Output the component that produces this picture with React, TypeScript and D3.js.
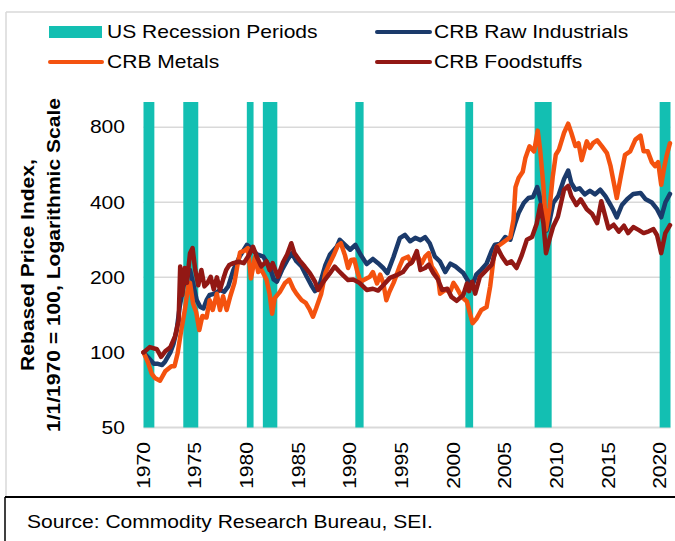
import React from "react";
import * as d3 from "d3";

type Pt = [number, number];

const yTicks = [50, 100, 200, 400, 800];
const yearTicks = [1970, 1975, 1980, 1985, 1990, 1995, 2000, 2005, 2010, 2015, 2020];

const recessions: Pt[] = [
  [1970.0, 1971.05],
  [1973.85, 1975.3],
  [1980.0, 1980.65],
  [1981.55, 1982.95],
  [1990.5, 1991.3],
  [2001.15, 2001.9],
  [2007.85, 2009.5],
  [2019.95, 2021.0],
];

const rawIndustrials: Pt[] = [
  [1970.0, 100], [1970.5, 95], [1971.0, 90], [1971.4, 90], [1971.8, 89], [1972.1, 92], [1972.6, 100],
  [1972.9, 108], [1973.2, 122], [1973.5, 152], [1973.85, 184], [1974.2, 201], [1974.5, 214], [1974.8, 189],
  [1975.15, 162], [1975.5, 152], [1975.8, 150], [1976.1, 162], [1976.4, 170], [1976.9, 172], [1977.4, 178],
  [1977.8, 175], [1978.2, 184], [1978.7, 214], [1979.3, 242], [1980.0, 270], [1980.4, 262], [1981.0, 247],
  [1981.6, 242], [1982.2, 221], [1982.6, 196], [1982.9, 192], [1983.4, 214], [1983.9, 234], [1984.35, 250],
  [1984.8, 232], [1985.3, 221], [1985.8, 201], [1986.3, 184], [1986.6, 176], [1987.1, 190], [1987.6, 224],
  [1988.05, 247], [1988.7, 265], [1989.0, 283], [1989.5, 270], [1990.0, 258], [1990.5, 270], [1991.0, 247],
  [1991.6, 226], [1992.2, 237], [1992.7, 228], [1993.2, 218], [1993.6, 208], [1994.2, 242], [1994.8, 287],
  [1995.3, 296], [1995.8, 279], [1996.3, 288], [1996.8, 282], [1997.25, 290], [1997.7, 274], [1998.2, 242],
  [1998.7, 231], [1999.2, 210], [1999.7, 227], [2000.2, 221], [2000.6, 214], [2000.95, 208], [2001.45, 192],
  [2001.9, 189], [2002.2, 205], [2002.7, 215], [2003.2, 227], [2003.7, 256], [2004.0, 270], [2004.5, 272],
  [2005.0, 290], [2005.5, 283], [2005.95, 328], [2006.3, 362], [2006.8, 397], [2007.25, 416], [2007.7, 420],
  [2008.1, 460], [2008.45, 405], [2008.7, 338], [2009.0, 308], [2009.35, 345], [2009.65, 397], [2010.15, 425],
  [2010.7, 496], [2011.1, 536], [2011.4, 478], [2011.8, 449], [2012.2, 455], [2012.7, 430], [2013.2, 445],
  [2013.7, 430], [2014.2, 449], [2014.7, 423], [2015.2, 390], [2015.5, 370], [2015.8, 348], [2016.3, 390],
  [2016.8, 411], [2017.4, 432], [2018.1, 436], [2018.6, 411], [2019.2, 399], [2019.7, 375], [2020.1, 348],
  [2020.5, 399], [2020.95, 432],
];

const metals: Pt[] = [
  [1970.0, 100], [1970.4, 92], [1970.8, 82], [1971.1, 79], [1971.6, 77], [1972.1, 84], [1972.4, 86],
  [1972.7, 88], [1973.0, 88], [1973.3, 99], [1973.6, 119], [1974.0, 148], [1974.35, 188], [1974.5, 190],
  [1974.8, 157], [1975.1, 145], [1975.4, 123], [1975.7, 140], [1976.1, 138], [1976.4, 162], [1976.7, 148],
  [1977.1, 172], [1977.4, 148], [1977.7, 168], [1978.05, 148], [1978.4, 168], [1978.8, 190], [1979.1, 225],
  [1979.35, 252], [1979.8, 256], [1980.1, 262], [1980.4, 198], [1980.8, 242], [1981.1, 210], [1981.4, 215],
  [1981.9, 196], [1982.2, 172], [1982.45, 143], [1982.7, 165], [1983.2, 175], [1983.7, 190], [1984.1, 196],
  [1984.5, 180], [1984.8, 172], [1985.3, 162], [1985.7, 158], [1986.1, 148], [1986.4, 139], [1986.7, 150],
  [1987.2, 172], [1987.6, 208], [1987.9, 222], [1988.4, 245], [1988.8, 268], [1989.1, 274], [1989.5, 245],
  [1989.8, 218], [1990.1, 235], [1990.4, 236], [1990.7, 210], [1991.0, 192], [1991.4, 196], [1991.9, 201],
  [1992.2, 210], [1992.6, 189], [1992.9, 205], [1993.2, 190], [1993.5, 162], [1993.8, 175], [1994.2, 190],
  [1994.5, 205], [1994.8, 222], [1995.1, 237], [1995.6, 242], [1995.9, 228], [1996.45, 247], [1996.9, 227],
  [1997.25, 242], [1997.6, 250], [1997.9, 221], [1998.2, 212], [1998.5, 201], [1998.7, 172], [1999.2, 178],
  [1999.7, 176], [2000.0, 190], [2000.3, 182], [2000.8, 167], [2001.3, 160], [2001.6, 143], [2001.85, 131],
  [2002.2, 136], [2002.7, 148], [2003.2, 152], [2003.55, 184], [2003.9, 242], [2004.2, 265], [2004.7, 274],
  [2005.15, 283], [2005.5, 290], [2005.8, 340], [2006.0, 460], [2006.3, 500], [2006.7, 530], [2006.95, 600],
  [2007.35, 670], [2007.8, 640], [2008.15, 775], [2008.4, 640], [2008.7, 465], [2008.95, 310], [2009.3, 380],
  [2009.6, 505], [2009.9, 620], [2010.2, 650], [2010.7, 760], [2011.1, 826], [2011.4, 760], [2011.8, 672],
  [2012.1, 690], [2012.4, 590], [2012.9, 702], [2013.2, 660], [2013.5, 690], [2013.9, 709], [2014.35, 672],
  [2014.85, 630], [2015.2, 558], [2015.5, 482], [2015.8, 416], [2016.2, 510], [2016.6, 620], [2017.1, 640],
  [2017.6, 713], [2018.1, 740], [2018.4, 640], [2018.8, 640], [2019.2, 578], [2019.5, 558], [2019.8, 580],
  [2020.1, 470], [2020.4, 555], [2020.65, 620], [2020.95, 690],
];

const foodstuffs: Pt[] = [
  [1970.0, 100], [1970.6, 105], [1971.3, 103], [1971.7, 96], [1972.1, 101], [1972.6, 105], [1973.05, 116],
  [1973.4, 134], [1973.55, 221], [1973.75, 170], [1974.0, 218], [1974.2, 190], [1974.5, 250], [1974.75, 262],
  [1975.0, 215], [1975.3, 186], [1975.6, 214], [1975.9, 184], [1976.2, 190], [1976.5, 201], [1976.8, 179],
  [1977.1, 200], [1977.4, 178], [1977.7, 196], [1978.0, 214], [1978.3, 224], [1978.7, 228], [1979.2, 231],
  [1979.7, 228], [1980.2, 245], [1980.6, 265], [1981.0, 240], [1981.4, 221], [1981.9, 232], [1982.2, 214],
  [1982.5, 228], [1983.0, 201], [1983.5, 230], [1983.9, 247], [1984.3, 274], [1984.6, 250], [1985.1, 234],
  [1985.6, 221], [1986.1, 208], [1986.6, 192], [1986.9, 178], [1987.4, 192], [1988.05, 208], [1988.5, 221],
  [1988.9, 212], [1989.3, 204], [1989.8, 195], [1990.3, 196], [1990.9, 190], [1991.6, 178], [1992.2, 180],
  [1992.7, 177], [1993.2, 186], [1993.85, 199], [1994.5, 204], [1995.1, 210], [1995.6, 224], [1996.0, 230],
  [1996.45, 255], [1996.8, 214], [1997.25, 218], [1997.6, 225], [1998.05, 208], [1998.5, 196], [1998.9, 178],
  [1999.4, 180], [1999.8, 167], [2000.3, 161], [2000.95, 170], [2001.3, 189], [2001.5, 176], [2001.8, 192],
  [2002.1, 172], [2002.55, 201], [2003.2, 214], [2003.7, 225], [2004.2, 265], [2004.7, 242], [2005.15, 227],
  [2005.6, 232], [2006.1, 218], [2006.6, 245], [2007.1, 283], [2007.6, 290], [2008.05, 328], [2008.4, 390],
  [2008.7, 330], [2008.95, 250], [2009.3, 285], [2009.65, 320], [2010.1, 350], [2010.7, 449], [2011.1, 465],
  [2011.4, 423], [2011.9, 390], [2012.3, 411], [2012.9, 375], [2013.4, 360], [2013.9, 330], [2014.3, 404],
  [2014.7, 350], [2015.0, 314], [2015.5, 325], [2016.0, 305], [2016.5, 322], [2016.9, 301], [2017.4, 318],
  [2017.9, 310], [2018.4, 301], [2018.9, 306], [2019.35, 312], [2019.7, 295], [2020.1, 250], [2020.5, 301],
  [2020.95, 324],
];

const COLORS = {
  recession: "#13BFB2",
  raw: "#1B3A6B",
  metals: "#F4520F",
  food: "#921814",
  grid: "#D9D9D9",
};

const FONT = "'Liberation Sans', Arial, Helvetica, sans-serif";
const FS = 18;
const STRETCH = 1.17;

function T({ x, y, rotate = 0, anchor = "start", weight = "normal", children, dy = "0.35em" }: any) {
  const tf = `translate(${x},${y})${rotate ? ` rotate(${rotate})` : ""} scale(${STRETCH},1)`;
  return (
    <text
      transform={tf}
      textAnchor={anchor}
      dy={dy}
      fontFamily={FONT}
      fontSize={FS}
      fontWeight={weight}
      fill="#000"
    >
      {children}
    </text>
  );
}

export default function App() {
  const W = 675;
  const H = 541;
  const x = d3.scaleLinear().domain([1970, 2021]).range([143.5, 670.5]);
  const y = d3.scaleLog().domain([50, 1000]).range([427.5, 103]);
  const line = d3
    .line<Pt>()
    .x((d) => x(d[0]))
    .y((d) => y(d[1]));

  const series = [
    { data: rawIndustrials, color: COLORS.raw },
    { data: metals, color: COLORS.metals },
    { data: foodstuffs, color: COLORS.food },
  ];

  const [x0, x1] = x.range();

  return (
    <svg
      width={W}
      height={H}
      viewBox={`0 0 ${W} ${H}`}
      style={{ position: "absolute", left: 0, top: 0, background: "#fff" }}
    >
      <rect x={0} y={0} width={W} height={H} fill="#fff" />
      {/* outer chart frame */}
      <line x1={6} y1={12} x2={W} y2={12} stroke={COLORS.grid} strokeWidth={1.5} />
      <line x1={6} y1={12} x2={6} y2={497} stroke={COLORS.grid} strokeWidth={1.5} />

      {/* gridlines */}
      {yTicks.map((t) => (
        <line key={t} x1={x0} x2={x1} y1={y(t)} y2={y(t)} stroke={COLORS.grid} strokeWidth={t === 50 ? 2 : 1.5} />
      ))}

      {/* recession bars */}
      {recessions.map(([a, b], i) => (
        <rect key={i} x={x(a)} y={y(1000) - 1} width={x(b) - x(a)} height={y(50) - y(1000) + 1} fill={COLORS.recession} />
      ))}

      {/* series */}
      {series.map((s, i) => (
        <path key={i} d={line(s.data) || ""} fill="none" stroke={s.color} strokeWidth={4.5} strokeLinejoin="round" strokeLinecap="round" />
      ))}

      {/* y tick labels */}
      {yTicks.map((t) => (
        <T key={t} x={125} y={y(t)} anchor="end">
          {t}
        </T>
      ))}

      {/* x tick labels */}
      {yearTicks.map((yr) => (
        <T key={yr} x={x(yr)} y={442} rotate={-90} anchor="end">
          {yr}
        </T>
      ))}

      {/* y axis title */}
      <g>
        <T x={33.5} y={265} rotate={-90} anchor="middle" weight="bold" dy="0">
          Rebased Price Index,
        </T>
        <T x={59.5} y={265} rotate={-90} anchor="middle" weight="bold" dy="0">
          1/1/1970 = 100, Logarithmic Scale
        </T>
      </g>

      {/* legend */}
      <rect x={49} y={26} width={53} height={12} fill={COLORS.recession} />
      <T x={107} y={32}>US Recession Periods</T>
      <line x1={377} x2={430} y1={32} y2={32} stroke={COLORS.raw} strokeWidth={4} strokeLinecap="round" />
      <T x={434} y={32}>CRB Raw Industrials</T>
      <line x1={50} x2={102} y1={62} y2={62} stroke={COLORS.metals} strokeWidth={4} strokeLinecap="round" />
      <T x={107} y={62}>CRB Metals</T>
      <line x1={377} x2={430} y1={62} y2={62} stroke={COLORS.food} strokeWidth={4} strokeLinecap="round" />
      <T x={434} y={62}>CRB Foodstuffs</T>

      {/* source box */}
      <line x1={5} y1={497} x2={W} y2={497} stroke="#000" strokeWidth={2} />
      <line x1={5} y1={497} x2={5} y2={H} stroke="#000" strokeWidth={1.5} />
      <T x={27} y={522}>Source: Commodity Research Bureau, SEI.</T>
    </svg>
  );
}
